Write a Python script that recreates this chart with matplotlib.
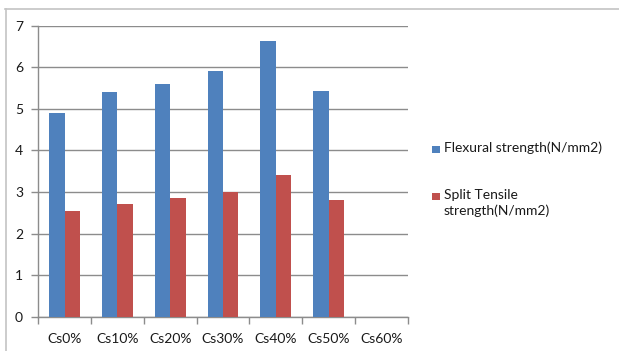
import matplotlib
matplotlib.use("Agg")
import matplotlib.pyplot as plt
from matplotlib.patches import Rectangle
from matplotlib.lines import Line2D
import numpy as np

categories = ["Cs0%", "Cs10%", "Cs20%", "Cs30%", "Cs40%", "Cs50%", "Cs60%"]
flexural = [4.9, 5.4, 5.6, 5.9, 6.63, 5.42, 0]
split_tensile = [2.54, 2.70, 2.86, 3.0, 3.42, 2.80, 0]
series_labels = ["Flexural strength(N/mm2)", "Split Tensile\nstrength(N/mm2)"]
series_colors = ["#4F81BD", "#C0504D"]

plt.rcParams["font.family"] = ["Lato", "DejaVu Sans"]

W, H = 619, 351
fs = 10
txt = "#1a1a1a"
fig = plt.figure(figsize=(W / 100, H / 100), dpi=100)
ax = fig.add_axes([38.3 / W, 1 - 316.7 / H, (407.7 - 38.3) / W, (316.7 - 25.7) / H])

x = np.arange(len(categories))
bw = 0.29
ax.bar(x - bw / 2, flexural, width=bw, color=series_colors[0], zorder=3)
ax.bar(x + bw / 2, split_tensile, width=bw, color=series_colors[1], zorder=3)

ax.set_xlim(-0.5, len(categories) - 0.5)
ax.set_ylim(0, 7)
ax.set_yticks(range(0, 8))
ax.yaxis.grid(True, color="#8c8c8c", linewidth=1.0, zorder=0)
ax.set_axisbelow(True)

ax.set_xticks(x)
ax.set_xticklabels(categories, fontsize=fs, color=txt)
ax.set_xticks(np.arange(-0.5, len(categories), 1.0), minor=True)
ax.tick_params(axis="x", which="major", length=0, pad=12)
ax.tick_params(axis="x", which="minor", length=5, width=1, color="#8c8c8c", direction="out")
ax.tick_params(axis="y", length=5, width=1, color="#8c8c8c", pad=6, labelsize=fs, labelcolor=txt)

for s in ["top", "right"]:
    ax.spines[s].set_visible(False)
for s in ["left", "bottom"]:
    ax.spines[s].set_color("#8c8c8c")
    ax.spines[s].set_linewidth(1.0)

# legend entries on the right
legend_rows = [150.0, 197.0]
for label, color, yc in zip(series_labels, series_colors, legend_rows):
    fig.patches.append(Rectangle((431.7 / W, 1 - (yc + 3.3) / H), 8 / W, 7 / H,
                                 transform=fig.transFigure, facecolor=color,
                                 edgecolor="none"))
    fig.text(444 / W, 1 - (yc - 8.5) / H, label, fontsize=fs, color=txt,
             va="top", ha="left", linespacing=1.4)

# chart area frame
frame_kw = dict(transform=fig.transFigure, color="#c4c4c4", linewidth=1.2)
fig.add_artist(Line2D([5 / W, 1], [1 - 8.7 / H, 1 - 8.7 / H], **frame_kw))
fig.add_artist(Line2D([6 / W, 6 / W], [0, 1 - 8.7 / H], **frame_kw))

fig.savefig("out.png", dpi=100)
